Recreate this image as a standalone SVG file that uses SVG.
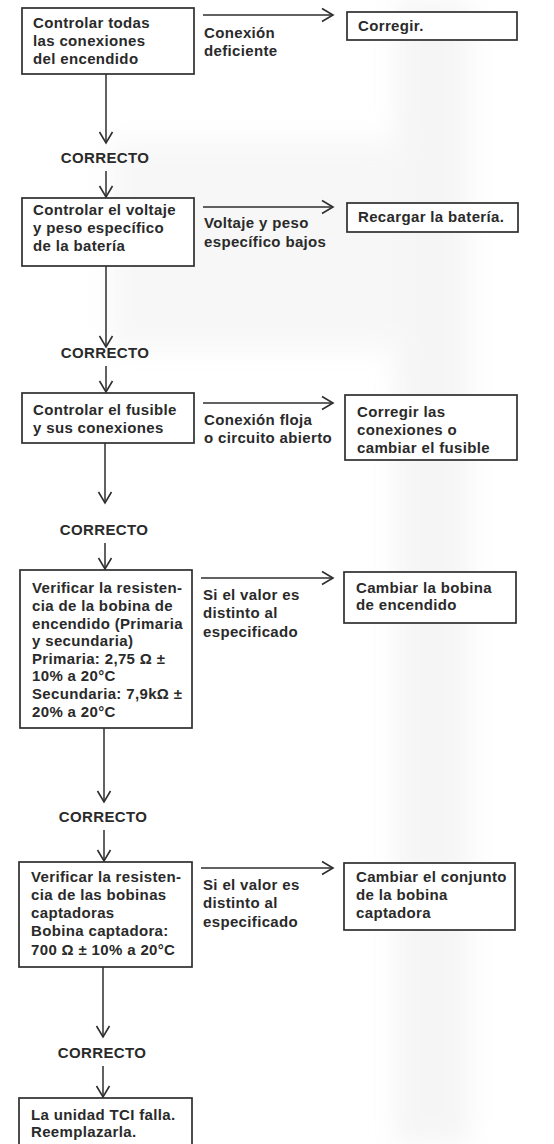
<svg xmlns="http://www.w3.org/2000/svg" width="554" height="1144" viewBox="0 0 554 1144">
  <defs>
    <style>
      .box { fill: #ffffff; stroke: #2e2e2e; stroke-width: 1.7; }
      .t { font-family: "Liberation Sans", Arial, sans-serif; font-size: 15px; font-weight: bold; fill: #2a2a2a; letter-spacing: 0.35px; }
      .c { text-anchor: middle; }
      .ln { fill: none; stroke: #2e2e2e; stroke-width: 1.5; }
    </style>
    <marker id="chev" markerUnits="userSpaceOnUse" markerWidth="14" markerHeight="16" viewBox="-12 -8 14 16" refX="0" refY="0" orient="auto">
      <path d="M-11,-6.5 L0,0 L-11,6.5" fill="none" stroke="#2e2e2e" stroke-width="1.6"/>
    </marker>
    <filter id="soft" x="-20%" y="-20%" width="140%" height="140%">
      <feGaussianBlur stdDeviation="12"/>
    </filter>
  </defs>

  <rect width="554" height="1144" fill="#ffffff"/>
  <!-- faint paper shading -->
  <g id="shading" filter="url(#soft)" opacity="0.5">
    <rect x="395" y="0" width="75" height="1144" fill="#ececec"/>
    <rect x="110" y="140" width="300" height="210" fill="#f0f0f0"/>
  </g>

  <g id="connectors">
    <!-- row 1 -->
    <line class="ln" x1="203" y1="15" x2="333" y2="15" marker-end="url(#chev)"/>
    <line class="ln" x1="106" y1="74" x2="106" y2="143" marker-end="url(#chev)"/>
    <line class="ln" x1="106" y1="171" x2="106" y2="197" marker-end="url(#chev)"/>
    <!-- row 2 -->
    <line class="ln" x1="203" y1="207" x2="333" y2="207" marker-end="url(#chev)"/>
    <line class="ln" x1="106" y1="266" x2="106" y2="347" marker-end="url(#chev)"/>
    <line class="ln" x1="106" y1="366" x2="106" y2="392" marker-end="url(#chev)"/>
    <!-- row 3 -->
    <line class="ln" x1="203" y1="403" x2="333" y2="403" marker-end="url(#chev)"/>
    <line class="ln" x1="105" y1="443" x2="105" y2="503" marker-end="url(#chev)"/>
    <line class="ln" x1="105" y1="543" x2="105" y2="569" marker-end="url(#chev)"/>
    <!-- row 4 -->
    <line class="ln" x1="201" y1="578" x2="333" y2="578" marker-end="url(#chev)"/>
    <line class="ln" x1="104" y1="728" x2="104" y2="802" marker-end="url(#chev)"/>
    <line class="ln" x1="104" y1="830" x2="104" y2="861" marker-end="url(#chev)"/>
    <!-- row 5 -->
    <line class="ln" x1="201" y1="868" x2="333" y2="868" marker-end="url(#chev)"/>
    <line class="ln" x1="103" y1="967" x2="103" y2="1037" marker-end="url(#chev)"/>
    <line class="ln" x1="103" y1="1066" x2="103" y2="1097" marker-end="url(#chev)"/>
  </g>

  <g id="connector-labels">
    <text class="t" x="204" y="38">Conexión</text>
    <text class="t" x="204" y="56">deficiente</text>
    <text class="t c" x="105" y="163">CORRECTO</text>

    <text class="t" x="204" y="228">Voltaje y peso</text>
    <text class="t" x="204" y="247">específico bajos</text>
    <text class="t c" x="105" y="358">CORRECTO</text>

    <text class="t" x="204" y="425">Conexión floja</text>
    <text class="t" x="204" y="443">o circuito abierto</text>
    <text class="t c" x="104" y="535">CORRECTO</text>

    <text class="t" x="203" y="600">Si el valor es</text>
    <text class="t" x="203" y="618">distinto al</text>
    <text class="t" x="203" y="637">especificado</text>
    <text class="t c" x="103" y="822">CORRECTO</text>

    <text class="t" x="203" y="890">Si el valor es</text>
    <text class="t" x="203" y="908">distinto al</text>
    <text class="t" x="203" y="927">especificado</text>
    <text class="t c" x="102" y="1058">CORRECTO</text>
  </g>

  <g id="check-connections">
    <rect class="box" x="22" y="8" width="172" height="66"/>
    <text class="t" x="33" y="28">Controlar todas</text>
    <text class="t" x="33" y="46">las conexiones</text>
    <text class="t" x="33" y="64">del encendido</text>
  </g>
  <g id="fix-connections">
    <rect class="box" x="347" y="12" width="170" height="28"/>
    <text class="t" x="358" y="31">Corregir.</text>
  </g>

  <g id="check-battery">
    <rect class="box" x="22" y="198" width="172" height="68"/>
    <text class="t" x="33" y="215">Controlar el voltaje</text>
    <text class="t" x="33" y="233">y peso específico</text>
    <text class="t" x="33" y="251">de la batería</text>
  </g>
  <g id="recharge-battery">
    <rect class="box" x="347" y="203" width="171" height="29"/>
    <text class="t" x="358" y="222">Recargar la batería.</text>
  </g>

  <g id="check-fuse">
    <rect class="box" x="22" y="393" width="172" height="50"/>
    <text class="t" x="33" y="415">Controlar el fusible</text>
    <text class="t" x="33" y="433">y sus conexiones</text>
  </g>
  <g id="fix-fuse">
    <rect class="box" x="345" y="395" width="172" height="65"/>
    <text class="t" x="357" y="417">Corregir las</text>
    <text class="t" x="357" y="435">conexiones o</text>
    <text class="t" x="357" y="453">cambiar el fusible</text>
  </g>

  <g id="check-ignition-coil">
    <rect class="box" x="20" y="570" width="172" height="158"/>
    <text class="t" x="32" y="593">Verificar la resisten-</text>
    <text class="t" x="32" y="611">cia de la bobina de</text>
    <text class="t" x="32" y="629">encendido (Primaria</text>
    <text class="t" x="32" y="646">y secundaria)</text>
    <text class="t" x="32" y="664">Primaria: 2,75 Ω ±</text>
    <text class="t" x="32" y="681">10% a 20°C</text>
    <text class="t" x="32" y="699">Secundaria: 7,9kΩ ±</text>
    <text class="t" x="32" y="717">20% a 20°C</text>
  </g>
  <g id="replace-ignition-coil">
    <rect class="box" x="344" y="572" width="172" height="51"/>
    <text class="t" x="356" y="593">Cambiar la bobina</text>
    <text class="t" x="356" y="610">de encendido</text>
  </g>

  <g id="check-pickup-coils">
    <rect class="box" x="19" y="862" width="173" height="105"/>
    <text class="t" x="31" y="882">Verificar la resisten-</text>
    <text class="t" x="31" y="900">cia de las bobinas</text>
    <text class="t" x="31" y="918">captadoras</text>
    <text class="t" x="31" y="936">Bobina captadora:</text>
    <text class="t" x="31" y="955">700 Ω ± 10% a 20°C</text>
  </g>
  <g id="replace-pickup-coil">
    <rect class="box" x="344" y="863" width="171" height="67"/>
    <text class="t" x="356" y="882">Cambiar el conjunto</text>
    <text class="t" x="356" y="900">de la bobina</text>
    <text class="t" x="356" y="918">captadora</text>
  </g>

  <g id="replace-tci-unit">
    <rect class="box" x="19" y="1098" width="173" height="60"/>
    <text class="t" x="31" y="1120">La unidad TCI falla.</text>
    <text class="t" x="31" y="1137">Reemplazarla.</text>
  </g>
</svg>
